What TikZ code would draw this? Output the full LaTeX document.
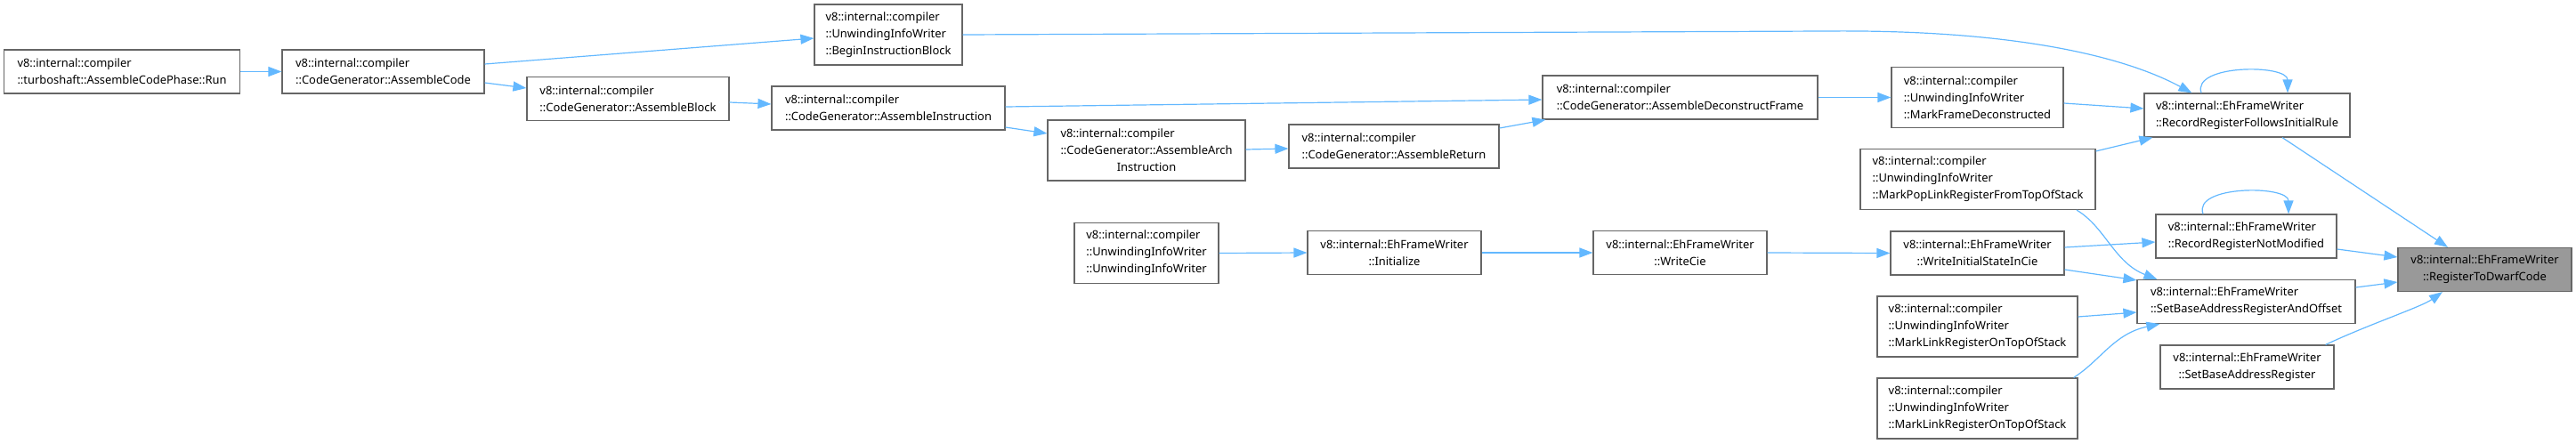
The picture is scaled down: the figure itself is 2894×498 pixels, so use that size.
\documentclass[tikz,border=0pt]{standalone}
\usepackage{fontspec}
\setmainfont{Noto Sans}
\usetikzlibrary{arrows.meta, calc}
\definecolor{edgeblue}{HTML}{63B8FF}
\definecolor{boxgray}{HTML}{666666}
\definecolor{rootfill}{HTML}{999999}

\begin{document}
\begin{tikzpicture}[x=0.5pt, y=-0.5pt,
  fn/.style={draw=boxgray, line width=0.6pt, fill=white, align=left, inner xsep=6pt,
    font=\fontsize{6.45}{9.5}\selectfont, minimum height=24.5pt},
  fn3/.style={fn, minimum height=34pt},
  fnc/.style={fn, align=center},
  root/.style={fnc, fill=rootfill},
  call/.style={draw=edgeblue, line width=0.6pt, -{Triangle[length=7.5pt, width=5.5pt]}}
]
\useasboundingbox (0,0) rectangle (2894,498);

% code generator chain
\node[fn, minimum width=132.5pt] (run) at (137,80.5) {v8::internal::compiler\\::turboshaft::AssembleCodePhase::Run};
\node[fn, minimum width=113.5pt] (asmcode) at (430.5,80.5) {v8::internal::compiler\\::CodeGenerator::AssembleCode};
\node[fn, minimum width=113.5pt] (asmblock) at (705.5,111) {v8::internal::compiler\\::CodeGenerator::AssembleBlock};
\node[fn, minimum width=131pt] (asminstr) at (998,121.5) {v8::internal::compiler\\::CodeGenerator::AssembleInstruction};
\node[fn3, minimum width=83pt] (beginblk) at (998,39) {v8::internal::compiler\\::UnwindingInfoWriter\\::BeginInstructionBlock};
\node[fn3, minimum width=111pt] (archinstr) at (1288,169) {v8::internal::compiler\\::CodeGenerator::AssembleArch\\\hspace*{\fill}Instruction\hspace*{\fill}};
\node[fn, minimum width=118pt] (asmreturn) at (1566,164.5) {v8::internal::compiler\\::CodeGenerator::AssembleReturn};
\node[fn, minimum width=154.5pt] (deconstr) at (1887.5,109.5) {v8::internal::compiler\\::CodeGenerator::AssembleDeconstructFrame};
\node[fn3, minimum width=96.5pt] (markframe) at (2221.5,109.5) {v8::internal::compiler\\::UnwindingInfoWriter\\::MarkFrameDeconstructed};
\node[fn3, minimum width=132pt] (markpop) at (2222,201.5) {v8::internal::compiler\\::UnwindingInfoWriter\\::MarkPopLinkRegisterFromTopOfStack};
\node[fn, minimum width=115.5pt] (rrfir) at (2524.5,129.5) {v8::internal::EhFrameWriter\\::RecordRegisterFollowsInitialRule};

% eh frame writer chain
\node[fn3, minimum width=81pt] (uiwctor) at (1288,284.5) {v8::internal::compiler\\::UnwindingInfoWriter\\::UnwindingInfoWriter};
\node[fnc, minimum width=97.5pt] (initialize) at (1566.5,284) {v8::internal::EhFrameWriter\\::Initialize};
\node[fnc, minimum width=97.5pt] (writecie) at (1887.5,284) {v8::internal::EhFrameWriter\\::WriteCie};
\node[fnc, minimum width=97.5pt] (writeinit) at (2221.5,284.5) {v8::internal::EhFrameWriter\\::WriteInitialStateInCie};
\node[fn3, minimum width=112.5pt] (marklinka) at (2221.5,367) {v8::internal::compiler\\::UnwindingInfoWriter\\::MarkLinkRegisterOnTopOfStack};
\node[fn3, minimum width=112.5pt] (marklinkb) at (2221.5,459) {v8::internal::compiler\\::UnwindingInfoWriter\\::MarkLinkRegisterOnTopOfStack};
\node[fn, minimum width=101.5pt] (rrnm) at (2523.5,265.5) {v8::internal::EhFrameWriter\\::RecordRegisterNotModified};
\node[fn, minimum width=122.5pt] (sbarao) at (2523.5,339) {v8::internal::EhFrameWriter\\::SetBaseAddressRegisterAndOffset};
\node[fnc, minimum width=97.5pt] (sbar) at (2524.5,412.5) {v8::internal::EhFrameWriter\\::SetBaseAddressRegister};
\node[root, minimum width=97.5pt] (r2dwarf) at (2791.5,303) {v8::internal::EhFrameWriter\\::RegisterToDwarfCode};

% calls, upper part
\draw[call] (run.east) -- (asmcode.west);
\draw[call] ($(asmcode.east)+(0,-8.5)$) -- ($(beginblk.west)+(0,4)$);
\draw[call] ($(asmcode.east)+(0,12.5)$) -- ($(asmblock.west)+(0,-12)$);
\draw[call] ($(asmblock.east)+(0,4)$) -- ($(asminstr.west)+(0,-4.5)$);
\draw[call] ($(asminstr.east)+(0,-1.5)$) -- ($(deconstr.west)+(0,2.5)$);
\draw[call] ($(asminstr.east)+(0,21.5)$) -- ($(archinstr.west)+(0,-19)$);
\draw[call] ($(archinstr.east)+(0,-1)$) -- ($(asmreturn.west)+(0,2.5)$);
\draw[call] ($(asmreturn.east)+(0,-20.5)$) -- ($(deconstr.south west)+(4,0)$);
\draw[call] (deconstr.east) -- (markframe.west);
\draw[call] ($(markframe.east)+(0,6.5)$) -- ($(rrfir.west)+(0,-7.5)$);
\draw[call] (beginblk.east) -- (2050,35) .. controls (2250,33) and (2380,60) .. ($(rrfir.north west)+(54,0)$);
\draw[call] ($(markpop.north east)+(0,3)$) -- ($(rrfir.south west)+(10,0)$);
\draw[call] ($(rrfir.north)+(-51.5,0)$) .. controls (2462,72) and (2570,72) .. ($(rrfir.north)+(45.5,0)$);
\draw[call] ($(rrfir.south)+(39.5,0)$) -- ($(r2dwarf.north)+(-41.5,0)$);
\draw[call] ($(markpop.south)+(111,0)$) .. controls (2365,255) and (2375,295) .. ($(sbarao.north west)+(23,0)$);

% calls, lower part
\draw[call] (uiwctor.east) -- (initialize.west);
\draw[call] (initialize.east) -- (writecie.west);
\draw[call] (writecie.east) -- (writeinit.west);
\draw[call] ($(writeinit.east)+(0,-6.5)$) -- ($(rrnm.west)+(0,6.5)$);
\draw[call] ($(writeinit.east)+(0,18.5)$) -- ($(sbarao.north west)+(0,1)$);
\draw[call] ($(rrnm.north)+(-48.5,0)$) .. controls (2463,208) and (2571,208) .. ($(rrnm.north)+(47.5,0)$);
\draw[call] ($(rrnm.east)+(0,14.5)$) -- ($(r2dwarf.west)+(0,-14)$);
\draw[call] ($(sbarao.east)+(0,-16)$) -- ($(r2dwarf.west)+(0,14)$);
\draw[call] ($(marklinka.east)+(0,-11)$) -- ($(sbarao.west)+(0,12)$);
\draw[call] ($(marklinkb.north east)+(-5,0)$) .. controls (2360,405) and (2375,375) .. ($(sbarao.south west)+(26,0)$);
\draw[call] ($(sbar.north east)+(-10,0)$) .. controls (2660,365) and (2720,345) .. ($(r2dwarf.south)+(-47.5,0)$);

\end{tikzpicture}
\end{document}
